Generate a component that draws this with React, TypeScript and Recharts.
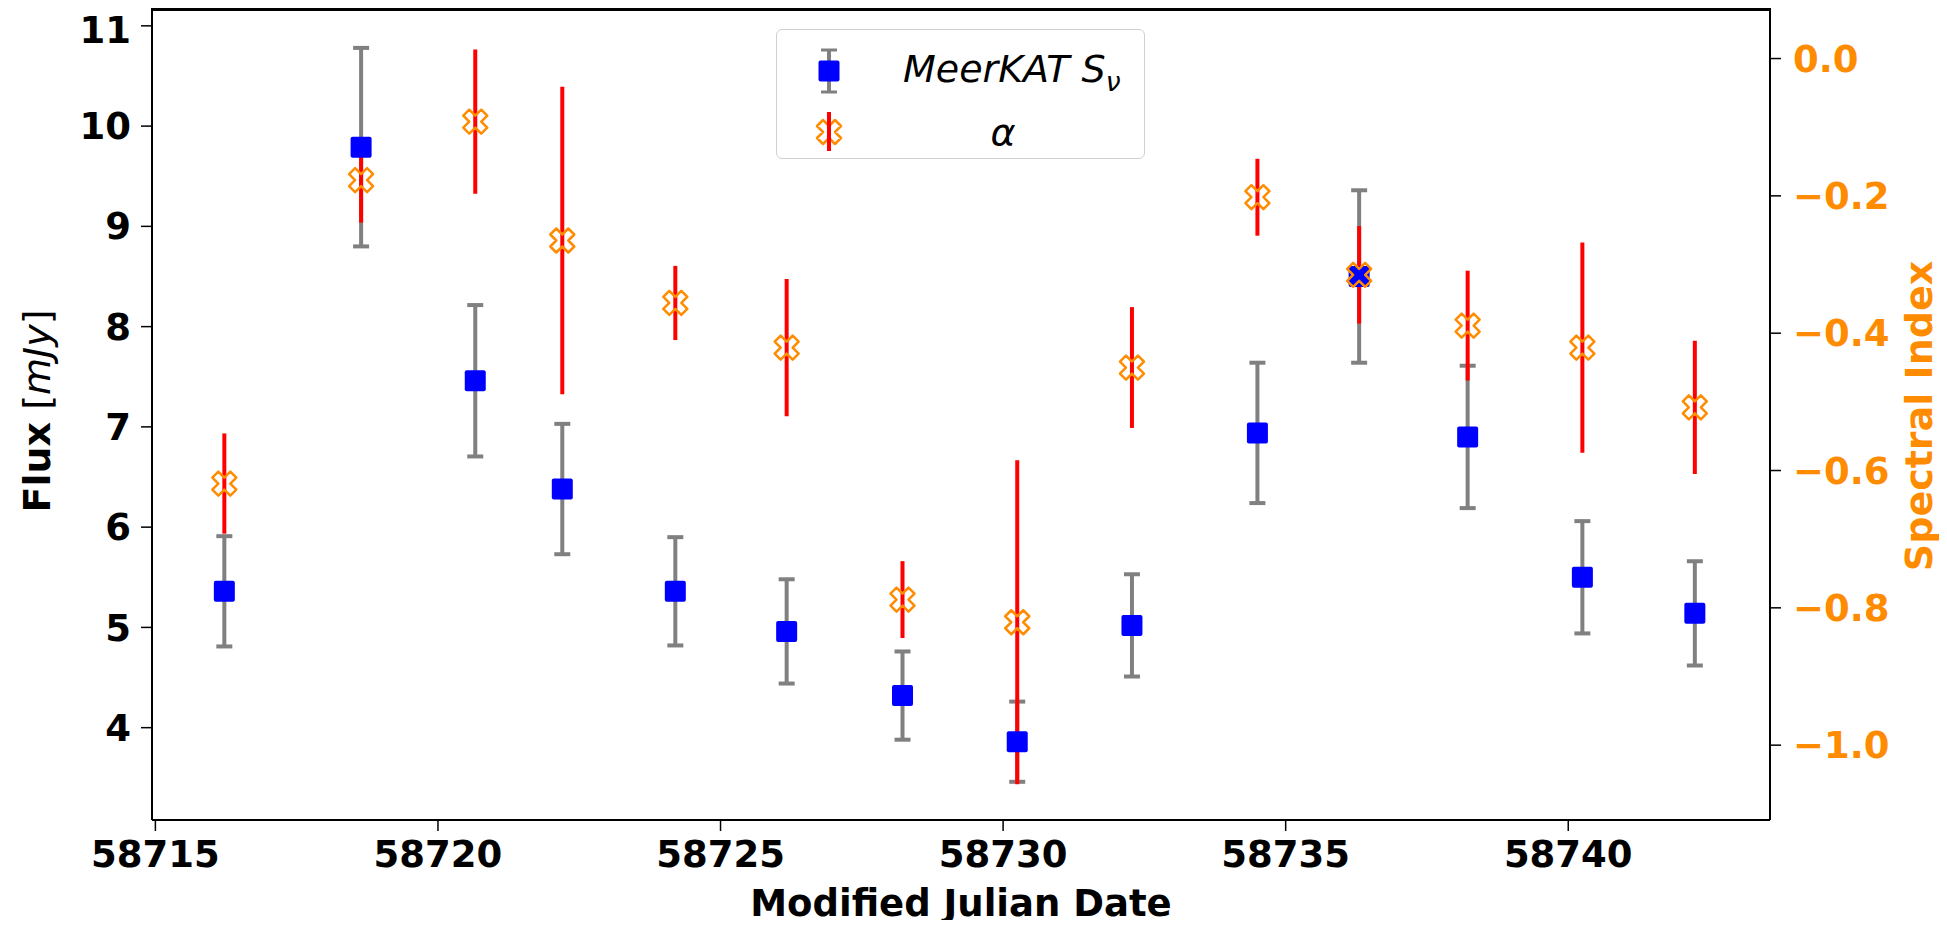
import {
  ScatterChart,
  Scatter,
  XAxis,
  YAxis,
  ErrorBar,
} from "recharts";

const mjd = [
  58716.22, 58718.64, 58720.66, 58722.2, 58724.2, 58726.17, 58728.22,
  58730.25, 58732.28, 58734.5, 58736.3, 58738.22, 58740.25, 58742.24,
];
const flux = [5.36, 9.79, 7.46, 6.38, 5.36, 4.96, 4.32, 3.86, 5.02, 6.94, 8.5, 6.9, 5.5, 5.14];
const fluxErr = [0.55, 0.99, 0.755, 0.65, 0.54, 0.52, 0.44, 0.4, 0.51, 0.7, 0.86, 0.71, 0.56, 0.52];
const alpha = [
  -0.619, -0.177, -0.092, -0.265, -0.356, -0.421, -0.788, -0.821, -0.45,
  -0.202, -0.315, -0.389, -0.421, -0.508,
];
const alphaErr = [
  0.073, 0.062, 0.105, 0.224, 0.054, 0.1, 0.056, 0.236, 0.088, 0.056, 0.071,
  0.08, 0.153, 0.097,
];

const xTicks = [58715, 58720, 58725, 58730, 58735, 58740];
const fluxTicks = [4, 5, 6, 7, 8, 9, 10, 11];
const alphaTicks = [0, -0.2, -0.4, -0.6, -0.8, -1.0];

const fluxData = mjd.map((m, i) => ({ mjd: m, flux: flux[i], err: fluxErr[i] }));
const alphaData = mjd.map((m, i) => ({ mjd: m, alpha: alpha[i], err: alphaErr[i] }));

const ORANGE = "#ff8c00";
const FONT = "DejaVu Sans";
const xDomain: [number, number] = [58714.94, 58743.57];
const fluxDomain: [number, number] = [3.079, 11.158];

function Square(props: any) {
  const { cx, cy } = props;
  return <rect x={cx - 10.5} y={cy - 10.5} width={21} height={21} rx={2} fill="#0000ff" />;
}

// matplotlib's filled "X" marker outline
const xPts = [
  [-1, -2], [0, -1], [1, -2], [2, -1], [1, 0], [2, 1],
  [1, 2], [0, 1], [-1, 2], [-2, 1], [-1, 0], [-2, -1],
];

function XMarker(props: any) {
  const { cx, cy } = props;
  const d =
    xPts.map(([px, py], i) => `${i ? "L" : "M"}${cx + px * 6},${cy + py * 6}`).join("") + "Z";
  return <path d={d} fill="none" stroke={ORANGE} strokeWidth={2.5} strokeLinejoin="round" />;
}

const tickStyle = { fontSize: 37, fontWeight: "bold", fill: "#000", fontFamily: FONT };
const spine = { stroke: "#000", strokeWidth: 2 };
const tickLn = { stroke: "#000", strokeWidth: 1.5 };

export default function App() {
  return (
    <div style={{ position: "relative", width: 1931, height: 912, fontFamily: FONT }}>
      <ScatterChart width={1931} height={912} margin={{ top: 2, right: 0, bottom: 0, left: 0 }}>
        <XAxis
          type="number"
          dataKey="mjd"
          domain={xDomain}
          allowDataOverflow
          ticks={xTicks}
          height={100}
          tickSize={11}
          tickMargin={10}
          tick={tickStyle}
          axisLine={spine}
          tickLine={tickLn}
        />
        <YAxis
          yAxisId="left"
          type="number"
          domain={fluxDomain}
          allowDataOverflow
          ticks={fluxTicks}
          width={144}
          tickSize={11}
          tickMargin={10}
          tick={tickStyle}
          axisLine={spine}
          tickLine={tickLn}
        />
        <YAxis
          yAxisId="right"
          orientation="right"
          type="number"
          domain={[-1.109, 0.0707]}
          allowDataOverflow
          ticks={alphaTicks}
          width={169}
          tickSize={11}
          tickMargin={12}
          tick={{ ...tickStyle, fill: ORANGE }}
          tickFormatter={(v: number) => (v < 0 ? "\u2212" : "") + Math.abs(v).toFixed(1)}
          axisLine={spine}
          tickLine={tickLn}
        />
        <Scatter
          data={fluxData}
          dataKey="flux"
          yAxisId="left"
          shape={(p: any) => <Square {...p} />}
          isAnimationActive={false}
        >
          <ErrorBar dataKey="err" direction="y" stroke="#808080" strokeWidth={4} width={8} />
        </Scatter>
        <Scatter
          data={alphaData}
          dataKey="alpha"
          yAxisId="right"
          shape={(p: any) => <XMarker {...p} />}
          isAnimationActive={false}
        >
          <ErrorBar dataKey="err" direction="y" stroke="#ff0000" strokeWidth={4} width={0} />
        </Scatter>
      </ScatterChart>

      {/* top spine */}
      <div
        style={{
          position: "absolute",
          left: 143,
          top: 0,
          width: 1620,
          height: 3,
          background: "#000",
          zIndex: 5,
        }}
      />

      {/* legend */}
      <div
        style={{
          position: "absolute",
          left: 768,
          top: 21,
          width: 369,
          height: 130,
          border: "1.5px solid #d0d0d0",
          borderRadius: 6,
          background: "rgba(255,255,255,0.8)",
          boxSizing: "border-box",
        }}
      >
        <svg width={369} height={130} style={{ position: "absolute", left: -1.5, top: -1.5 }}>
          <line x1={53} x2={53} y1={21} y2={63} stroke="#808080" strokeWidth={4} />
          <line x1={45} x2={61} y1={21} y2={21} stroke="#808080" strokeWidth={3} />
          <line x1={45} x2={61} y1={63} y2={63} stroke="#808080" strokeWidth={3} />
          <Square cx={53} cy={42} />
          <XMarker cx={53} cy={103} />
          <line x1={53} x2={53} y1={83} y2={122} stroke="#ff0000" strokeWidth={4} />
        </svg>
        <div
          style={{
            position: "absolute",
            left: 126,
            top: 20,
            fontSize: 38,
            fontStyle: "italic",
            lineHeight: 1,
            whiteSpace: "nowrap",
          }}
        >
          MeerKAT S<sub style={{ fontSize: "0.7em" }}>ν</sub>
        </div>
        <div
          style={{
            position: "absolute",
            left: 226,
            top: 83,
            transform: "translateX(-50%)",
            fontSize: 38,
            fontStyle: "italic",
            lineHeight: 1,
          }}
        >
          α
        </div>
      </div>

      {/* axis titles */}
      <div
        style={{
          position: "absolute",
          left: 29,
          top: 403,
          transform: "translate(-50%, -50%) rotate(-90deg)",
          fontSize: 38,
          lineHeight: 1,
          whiteSpace: "nowrap",
        }}
      >
        <b>Flux</b> [<i>mJy</i>]
      </div>
      <div
        style={{
          position: "absolute",
          left: 1911,
          top: 408,
          transform: "translate(-50%, -50%) rotate(-90deg)",
          fontSize: 38,
          fontWeight: "bold",
          color: ORANGE,
          lineHeight: 1,
          whiteSpace: "nowrap",
        }}
      >
        Spectral Index
      </div>
      <div
        style={{
          position: "absolute",
          left: 953,
          top: 895,
          transform: "translate(-50%, -50%)",
          fontSize: 37,
          fontWeight: "bold",
          lineHeight: 1,
          whiteSpace: "nowrap",
        }}
      >
        Modified Julian Date
      </div>
    </div>
  );
}
